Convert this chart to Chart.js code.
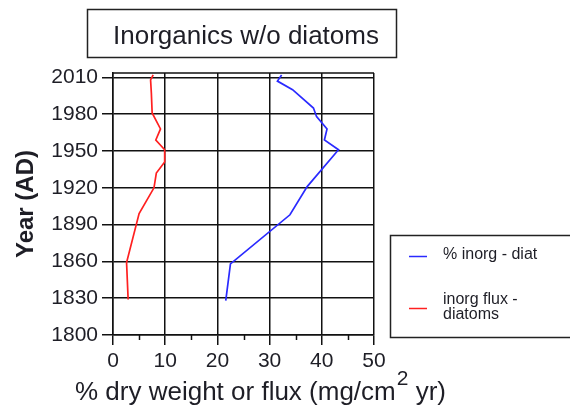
<!DOCTYPE html>
<html>
<head>
<meta charset="utf-8">
<script src="https://cdn.jsdelivr.net/npm/chart.js@4.4.1/dist/chart.umd.min.js"></script>
<style>
  html, body { margin: 0; padding: 0; background: #fff; }
  #wrap { width: 570px; height: 408px; }
</style>
</head>
<body>
<div id="wrap"><canvas id="chart" width="570" height="408"></canvas></div>
<script>
// values
const inorgYears = [2012, 2007, 2000, 1985, 1978, 1968, 1959, 1951, 1921, 1898, 1858, 1828];
const inorgPct   = [32.3, 31.5, 34.4, 38.4, 39.0, 41.0, 40.5, 43.2, 37.2, 33.9, 22.5, 21.6];

const fluxYears = [2012, 2008, 1997, 1981, 1968, 1959, 1951, 1941, 1932, 1920, 1899, 1859, 1829];
const fluxVals  = [7.7, 7.2, 7.35, 7.5, 9.1, 8.2, 9.9, 9.9, 8.3, 7.85, 5.0, 2.6, 2.9];

const xTickValues = [0, 10, 20, 30, 40, 50];
const xMinorTicks = [5, 15, 25, 35, 45];
const yTickValues = [1800, 1830, 1860, 1890, 1920, 1950, 1980, 2010];

const chartTitle = "Inorganics w/o diatoms";
const yTitle = "Year (AD)";
const legendLabels = [["% inorg - diat"], ["inorg flux -", "diatoms"]];

const FONT = '"Liberation Sans", Arial, Helvetica, sans-serif';
const INK = '#1e1e26';
const GRID = '#111';

function toPoints(xs, ys) {
    return xs.map((v, i) => ({ x: v, y: ys[i] }));
}

const decorPlugin = {
    id: 'decor',
    afterDraw(chart) {
        const ctx = chart.ctx;
        const area = chart.chartArea;
        const xs = chart.scales.x;
        ctx.save();

        // top border of plot
        ctx.strokeStyle = GRID;
        ctx.lineWidth = 1.5;
        ctx.beginPath();
        ctx.moveTo(area.left, area.top);
        ctx.lineTo(area.right, area.top);
        ctx.stroke();

        // minor ticks on x axis
        xMinorTicks.forEach(v => {
            const px = Math.round(xs.getPixelForValue(v)) + 0.5;
            ctx.beginPath();
            ctx.moveTo(px, area.bottom);
            ctx.lineTo(px, area.bottom + 5);
            ctx.stroke();
        });

        // title box
        ctx.lineWidth = 1.5;
        ctx.strokeStyle = '#222';
        ctx.strokeRect(87.5, 9.5, 309, 48);
        ctx.fillStyle = INK;
        ctx.font = '26px ' + FONT;
        ctx.textAlign = 'center';
        ctx.textBaseline = 'alphabetic';
        ctx.fillText(chartTitle, 246, 44);

        // x axis title with superscript
        ctx.textAlign = 'left';
        let x = 75;
        const base = 400;
        ctx.font = '26px ' + FONT;
        const p1 = '% dry weight or flux (mg/cm';
        ctx.fillText(p1, x, base);
        x += ctx.measureText(p1).width + 1;
        ctx.font = '21px ' + FONT;
        ctx.fillText('2', x, base - 15);
        x += ctx.measureText('2').width;
        ctx.font = '26px ' + FONT;
        ctx.fillText(' yr)', x, base);

        // legend box
        ctx.strokeStyle = '#222';
        ctx.lineWidth = 1.5;
        ctx.strokeRect(390.5, 235.5, 200, 102);
        const rows = [256, 308];
        chart.data.datasets.forEach((ds, i) => {
            const y = rows[i];
            ctx.strokeStyle = ds.borderColor;
            ctx.lineWidth = 1.5;
            ctx.beginPath();
            ctx.moveTo(409, y + 0.5);
            ctx.lineTo(427, y + 0.5);
            ctx.stroke();
            ctx.fillStyle = INK;
            ctx.font = '16px ' + FONT;
            ctx.textBaseline = 'middle';
            const lines = legendLabels[i];
            const top = y - (lines.length - 1) * 15 / 2 - 1;
            lines.forEach((t, j) => ctx.fillText(t, 443, top + j * 15));
        });
        ctx.restore();
    }
};

new Chart(document.getElementById('chart'), {
    type: 'scatter',
    data: {
        datasets: [{
            label: legendLabels[0].join(' '),
            data: toPoints(inorgPct, inorgYears),
            showLine: true,
            borderColor: '#2a2aff',
            borderWidth: 1.7,
            pointRadius: 0,
            tension: 0
        }, {
            label: legendLabels[1].join(' '),
            data: toPoints(fluxVals, fluxYears),
            showLine: true,
            borderColor: '#ff2020',
            borderWidth: 1.7,
            pointRadius: 0,
            tension: 0
        }]
    },
    options: {
        responsive: false,
        animation: false,
        devicePixelRatio: 1,
        layout: { padding: { left: 0, top: 73, right: 196, bottom: 0 } },
        plugins: {
            legend: { display: false },
            tooltip: { enabled: false }
        },
        scales: {
            x: {
                type: 'linear',
                min: 0,
                max: 50,
                afterBuildTicks: scale => { scale.ticks = xTickValues.map(v => ({ value: v })); },
                afterFit: scale => { scale.height = 73; },
                ticks: {
                    color: INK,
                    font: { family: FONT, size: 21 },
                    padding: 4,
                    maxRotation: 0,
                    callback: v => String(v)
                },
                grid: { color: GRID, lineWidth: 1.5, tickLength: 10 },
                border: { display: true, color: GRID, width: 1.5 }
            },
            y: {
                type: 'linear',
                min: 1800,
                max: 2013.6,
                afterBuildTicks: scale => { scale.ticks = yTickValues.map(v => ({ value: v })); },
                afterFit: scale => { scale.width = 113; },
                ticks: {
                    color: INK,
                    font: { family: FONT, size: 21 },
                    padding: 4,
                    callback: v => String(v)
                },
                grid: { color: GRID, lineWidth: 1.5, tickLength: 11 },
                border: { display: true, color: GRID, width: 1.5 },
                title: {
                    display: true,
                    text: yTitle,
                    color: INK,
                    font: { family: FONT, size: 24, weight: 'bold' },
                    padding: { top: 12, bottom: 0 }
                }
            }
        }
    },
    plugins: [decorPlugin]
});
</script>
</body>
</html>
